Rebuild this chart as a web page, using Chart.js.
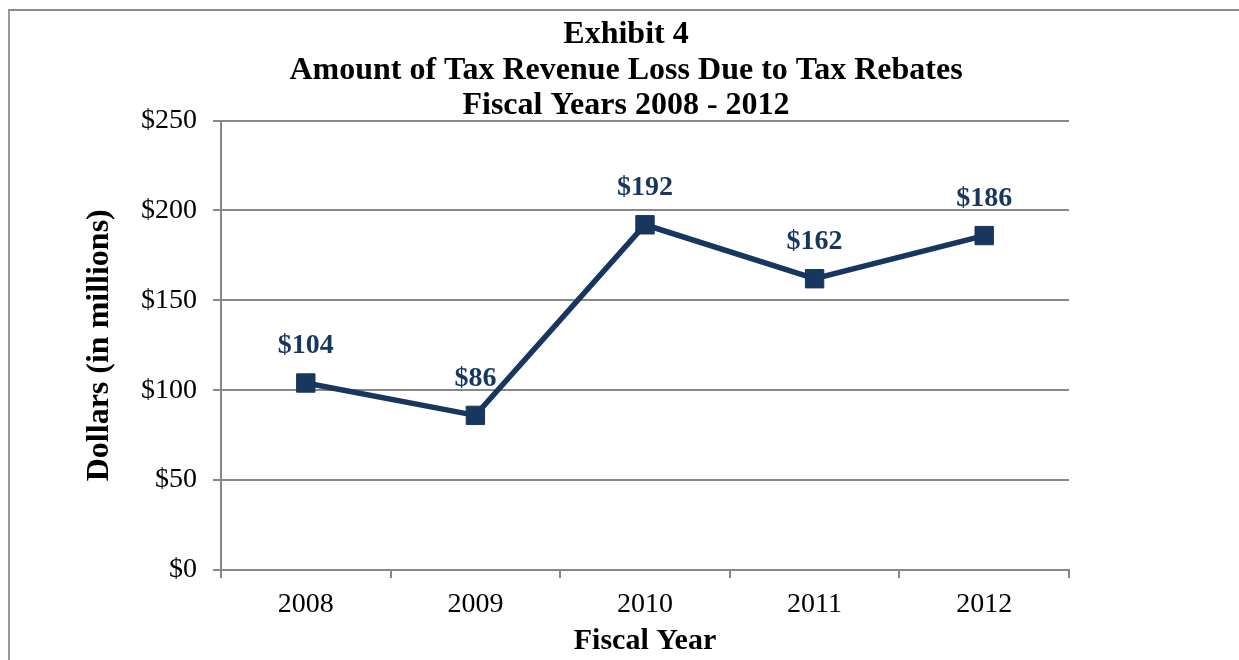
<!DOCTYPE html>
<html>
<head>
<meta charset="utf-8">
<script src="https://cdn.jsdelivr.net/npm/chart.js@4/dist/chart.umd.min.js"></script>
<style>
    html, body { margin: 0; padding: 0; background: #ffffff; }
    #wrap { position: relative; width: 1239px; height: 660px; overflow: hidden; }
    #frame {
        position: absolute; left: 8px; top: 9px; right: -10px; bottom: -10px;
        border-left: 2px solid #9a9a9a; border-top: 2px solid #8a8a8a;
        pointer-events: none;
    }
    canvas { position: absolute; left: 0; top: 0; }
</style>
</head>
<body>
<div id="wrap">
    <canvas id="chart" width="1239" height="660"></canvas>
    <div id="frame"></div>
</div>
<script>
const fiscalYears = ['2008', '2009', '2010', '2011', '2012'];
const revenueLoss = [104, 86, 192, 162, 186];
const yTicks = [0, 50, 100, 150, 200, 250];

const titleLines = [
    'Exhibit 4',
    'Amount of Tax Revenue Loss Due to Tax Rebates',
    'Fiscal Years 2008 - 2012',
];

const navy = '#17375E';
const gridGray = '#878787';
const serif = '"Liberation Serif", "Times New Roman", serif';

// labels like "$104" sitting above each marker
const valueLabels = {
    id: 'valueLabels',
    afterDatasetsDraw(chart) {
        const { ctx } = chart;
        const meta = chart.getDatasetMeta(0);
        ctx.save();
        ctx.font = 'bold 28px ' + serif;
        ctx.fillStyle = navy;
        ctx.textAlign = 'center';
        ctx.textBaseline = 'middle';
        meta.data.forEach((pt, i) => {
            ctx.fillText('$' + revenueLoss[i], pt.x, pt.y - 37);
        });
        ctx.restore();
    },
};

new Chart(document.getElementById('chart'), {
    type: 'line',
    data: {
        labels: fiscalYears,
        datasets: [{
            data: revenueLoss,
            borderColor: navy,
            backgroundColor: navy,
            borderWidth: 5.5,
            tension: 0,
            pointStyle: 'rect',
            pointRadius: 13,
            pointBorderWidth: 1,
            pointBackgroundColor: navy,
            pointBorderColor: navy,
        }],
    },
    options: {
        responsive: false,
        animation: false,
        devicePixelRatio: 1,
        layout: {
            padding: { top: 17, left: 13, right: 0, bottom: 0 },
        },
        plugins: {
            legend: { display: false },
            tooltip: { enabled: false },
            title: {
                display: true,
                text: titleLines,
                color: '#000000',
                font: { family: serif, size: 32, weight: 'bold', lineHeight: '35.5px' },
                padding: { top: 0, bottom: -3 },
            },
        },
        scales: {
            x: {
                type: 'category',
                offset: true,
                afterFit: (scale) => { scale.height = 90; },
                grid: {
                    offset: true,
                    drawOnChartArea: false,
                    drawTicks: true,
                    tickLength: 8,
                    color: gridGray,
                    lineWidth: 2,
                },
                border: { display: true, color: gridGray, width: 2 },
                ticks: {
                    color: '#000000',
                    padding: 10,
                    font: { family: serif, size: 28 },
                    maxRotation: 0,
                },
                title: {
                    display: true,
                    text: 'Fiscal Year',
                    color: '#000000',
                    font: { family: serif, size: 30, weight: 'bold' },
                    padding: { top: 0, bottom: 1 },
                },
            },
            y: {
                min: 0,
                max: 250,
                afterFit: (scale) => { scale.width = 208; },
                afterBuildTicks: (scale) => {
                    scale.ticks = yTicks.map((v) => ({ value: v }));
                },
                grid: {
                    color: gridGray,
                    lineWidth: 2,
                    tickLength: 8,
                },
                border: { display: true, color: gridGray, width: 2 },
                ticks: {
                    color: '#000000',
                    padding: 16,
                    font: { family: serif, size: 28 },
                    callback: (v) => '$' + v,
                },
                title: {
                    display: true,
                    text: 'Dollars (in millions)',
                    color: '#000000',
                    font: { family: serif, size: 32, weight: 'bold' },
                    padding: { top: 68, bottom: 0 },
                },
            },
            // empty right-hand spacer so the title centres over the whole page
            spacer: {
                type: 'linear',
                position: 'right',
                afterFit: (scale) => { scale.width = 170; },
                grid: { display: false },
                border: { display: false },
                ticks: { display: false },
            },
        },
    },
    plugins: [valueLabels],
});
</script>
</body>
</html>
